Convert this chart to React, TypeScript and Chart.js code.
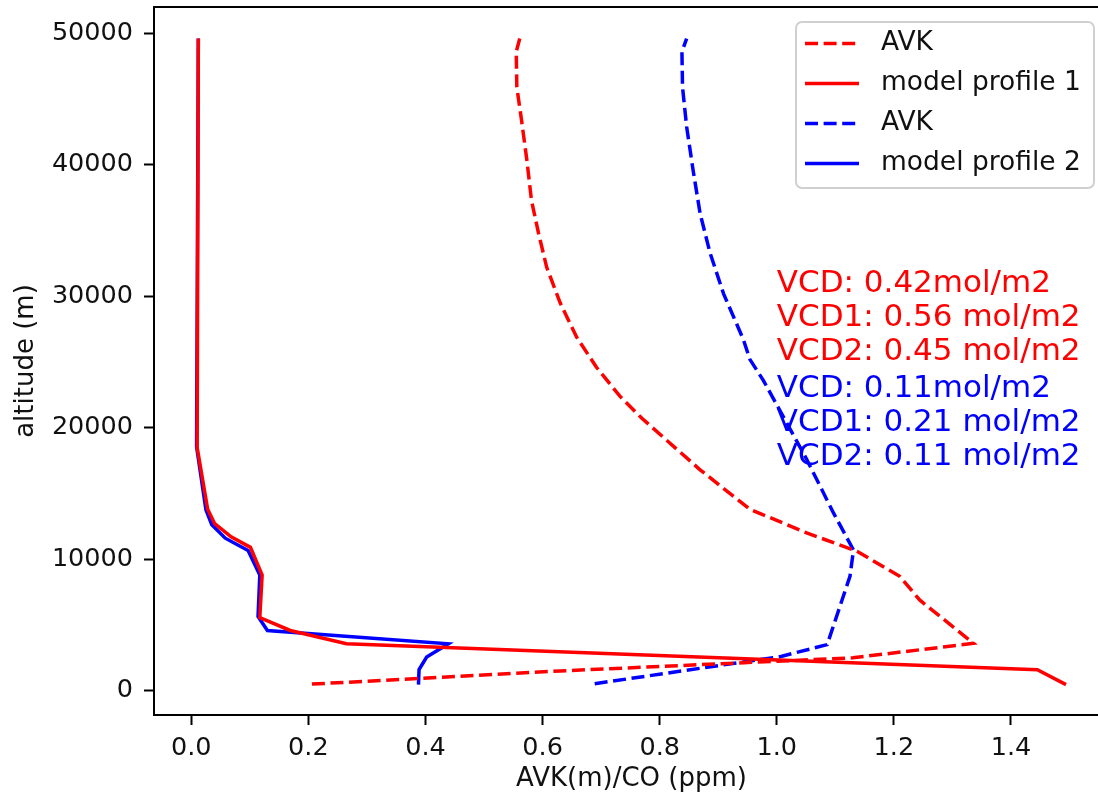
import React, { useEffect, useRef } from 'react';
import { Chart, registerables } from 'chart.js';

Chart.register(...registerables);

const FONT = '"DejaVu Sans", "Liberation Sans", sans-serif';

// ---- data (altitude in m, value in AVK(m)/CO ppm) ----
const redAvkAlt = [500, 1500, 2500, 3600, 6900, 8700, 10600, 12000, 13800, 16800, 20700, 22400, 24600, 26900, 29500, 32200, 34800, 37300, 40400, 43400, 45900, 48600, 49600];
const redAvkVal = [0.206, 0.63, 1.13, 1.336, 1.244, 1.21, 1.137, 1.051, 0.954, 0.869, 0.77, 0.732, 0.692, 0.658, 0.63, 0.607, 0.593, 0.581, 0.573, 0.564, 0.556, 0.555, 0.561];

const profile1Alt = [460, 1600, 3570, 4580, 5550, 8800, 10900, 11700, 12700, 13800, 18500, 49600];
const profile1Val = [1.494, 1.445, 0.265, 0.169, 0.117, 0.121, 0.101, 0.068, 0.04, 0.028, 0.01, 0.012];

const blueAvkAlt = [530, 2600, 3500, 8700, 10700, 13500, 17600, 21500, 23600, 25200, 26700, 30200, 33300, 36300, 39600, 42900, 45900, 48600, 49600];
const blueAvkVal = [0.689, 1.007, 1.086, 1.125, 1.131, 1.097, 1.051, 1.003, 0.977, 0.954, 0.943, 0.909, 0.886, 0.869, 0.857, 0.846, 0.839, 0.838, 0.846];

const profile2Alt = [460, 1600, 2560, 3570, 4580, 5650, 8800, 10660, 11600, 12620, 13760, 18570, 49600];
const profile2Val = [0.388, 0.389, 0.402, 0.439, 0.13, 0.114, 0.117, 0.097, 0.058, 0.035, 0.025, 0.009, 0.012];

const seriesLabels = ['AVK', 'model profile 1', 'AVK', 'model profile 2'];

const xTicks = [0, 0.2, 0.4, 0.6, 0.8, 1.0, 1.2, 1.4];
const yTicks = [0, 10000, 20000, 30000, 40000, 50000];

const vcdRedLines = ['VCD: 0.42mol/m2', 'VCD1: 0.56 mol/m2', 'VCD2: 0.45 mol/m2'];
const vcdBlueLines = ['VCD: 0.11mol/m2', 'VCD1: 0.21 mol/m2', 'VCD2: 0.11 mol/m2'];

const xAxisTitle = 'AVK(m)/CO (ppm)';
const yAxisTitle = 'altitude (m)';

const toPoints = (vals: number[], alts: number[]) => vals.map((v, i) => ({ x: v, y: alts[i] }));

const RED = '#ff0000';
const BLUE = '#0000ff';
const DASH = [13, 5.6];

const framePlugin = {
  id: 'frame',
  afterDraw(chart: any) {
    const { ctx, chartArea } = chart;
    ctx.save();
    ctx.strokeStyle = '#000';
    ctx.lineWidth = 2;
    ctx.strokeRect(chartArea.left, chartArea.top, chartArea.right - chartArea.left, chartArea.bottom - chartArea.top);
    ctx.restore();
  },
};

const textPlugin = {
  id: 'vcdText',
  afterDatasetsDraw(chart: any) {
    const { ctx, scales } = chart;
    const x = scales.x.getPixelForValue(1.0);
    ctx.save();
    ctx.font = `31px ${FONT}`;
    ctx.textAlign = 'left';
    ctx.textBaseline = 'middle';
    const redTop = scales.y.getPixelForValue(30920);
    ctx.fillStyle = RED;
    vcdRedLines.forEach((t, i) => ctx.fillText(t, x, redTop + i * 34));
    const blueTop = scales.y.getPixelForValue(22970);
    ctx.fillStyle = BLUE;
    vcdBlueLines.forEach((t, i) => ctx.fillText(t, x, blueTop + i * 34));
    ctx.restore();
  },
};

const legendPlugin = {
  id: 'mplLegend',
  afterDraw(chart: any) {
    const { ctx, chartArea } = chart;
    const w = 298;
    const h = 166;
    const right = chartArea.right - 15;
    const top = chartArea.top + 15;
    const left = right - w;
    ctx.save();
    ctx.beginPath();
    ctx.roundRect(left, top, w, h, 6);
    ctx.fillStyle = 'rgba(255,255,255,0.85)';
    ctx.fill();
    ctx.strokeStyle = '#d0d0d0';
    ctx.lineWidth = 2;
    ctx.stroke();
    ctx.font = `26.5px ${FONT}`;
    ctx.textBaseline = 'middle';
    ctx.textAlign = 'left';
    chart.data.datasets.forEach((ds: any, i: number) => {
      const y = top + 21.5 + i * 40;
      ctx.beginPath();
      ctx.strokeStyle = ds.borderColor;
      ctx.lineWidth = ds.borderWidth;
      ctx.setLineDash(ds.borderDash || []);
      ctx.moveTo(left + 9, y);
      ctx.lineTo(left + 63, y);
      ctx.stroke();
      ctx.setLineDash([]);
      ctx.fillStyle = '#111';
      ctx.fillText(ds.label, left + 85, y);
    });
    ctx.restore();
  },
};

export default function App() {
  const ref = useRef<HTMLCanvasElement>(null);

  useEffect(() => {
    const canvas = ref.current;
    if (!canvas) return;
    const mk = (label: string, vals: number[], alts: number[], color: string, dashed: boolean) => ({
      label,
      data: toPoints(vals, alts),
      showLine: true,
      borderColor: color,
      backgroundColor: color,
      borderWidth: 3.5,
      borderDash: dashed ? DASH : [],
      pointRadius: 0,
      tension: 0,
      fill: false,
    });
    const chart = new Chart(canvas, {
      type: 'scatter',
      data: {
        datasets: [
          mk(seriesLabels[0], redAvkVal, redAvkAlt, RED, true),
          mk(seriesLabels[1], profile1Val, profile1Alt, RED, false),
          mk(seriesLabels[2], blueAvkVal, blueAvkAlt, BLUE, true),
          mk(seriesLabels[3], profile2Val, profile2Alt, BLUE, false),
        ],
      },
      options: {
        animation: false,
        responsive: false,
        devicePixelRatio: 1,
        events: [],
        layout: { padding: { top: 7, right: 3, left: 0, bottom: 0 } },
        plugins: {
          legend: { display: false },
          tooltip: { enabled: false },
          title: { display: false },
        },
        scales: {
          x: {
            type: 'linear',
            min: -0.0637,
            max: 1.5674,
            afterFit: (s: any) => { s.height = 87; s.paddingLeft = 0; s.paddingRight = 0; },
            afterBuildTicks: (s: any) => { s.ticks = xTicks.map((v) => ({ value: v })); },
            border: { display: true, color: '#000', width: 2 },
            grid: { display: true, drawOnChartArea: false, drawTicks: true, tickLength: 10, tickColor: '#000', tickWidth: 2 },
            ticks: {
              color: '#111',
              padding: 8,
              maxRotation: 0,
              autoSkip: false,
              font: { family: FONT, size: 25.5 },
              callback: (v: any) => Number(v).toFixed(1),
            },
            title: {
              display: true,
              text: xAxisTitle,
              color: '#111',
              font: { family: FONT, size: 26 },
              padding: { top: 0, bottom: 7 },
            },
          },
          y: {
            type: 'linear',
            min: -1850,
            max: 52000,
            afterFit: (s: any) => { s.width = 154; s.paddingTop = 0; s.paddingBottom = 0; },
            afterBuildTicks: (s: any) => { s.ticks = yTicks.map((v) => ({ value: v })); },
            border: { display: true, color: '#000', width: 2 },
            grid: { display: true, drawOnChartArea: false, drawTicks: true, tickLength: 10, tickColor: '#000', tickWidth: 2 },
            ticks: {
              color: '#111',
              padding: 11,
              autoSkip: false,
              font: { family: FONT, size: 25.5 },
              callback: (v: any) => String(Math.round(Number(v))),
            },
            title: {
              display: true,
              text: yAxisTitle,
              color: '#111',
              font: { family: FONT, size: 26 },
              padding: { top: 11, bottom: 0 },
            },
          },
        },
      },
      plugins: [textPlugin, framePlugin, legendPlugin],
    } as any);
    return () => chart.destroy();
  }, []);

  return (
    <div style={{ position: 'absolute', left: 0, top: 0, width: 1098, height: 802, overflow: 'hidden', background: '#fff' }}>
      <canvas ref={ref} width={1112} height={802} style={{ display: 'block', width: 1112, height: 802 }} />
    </div>
  );
}
